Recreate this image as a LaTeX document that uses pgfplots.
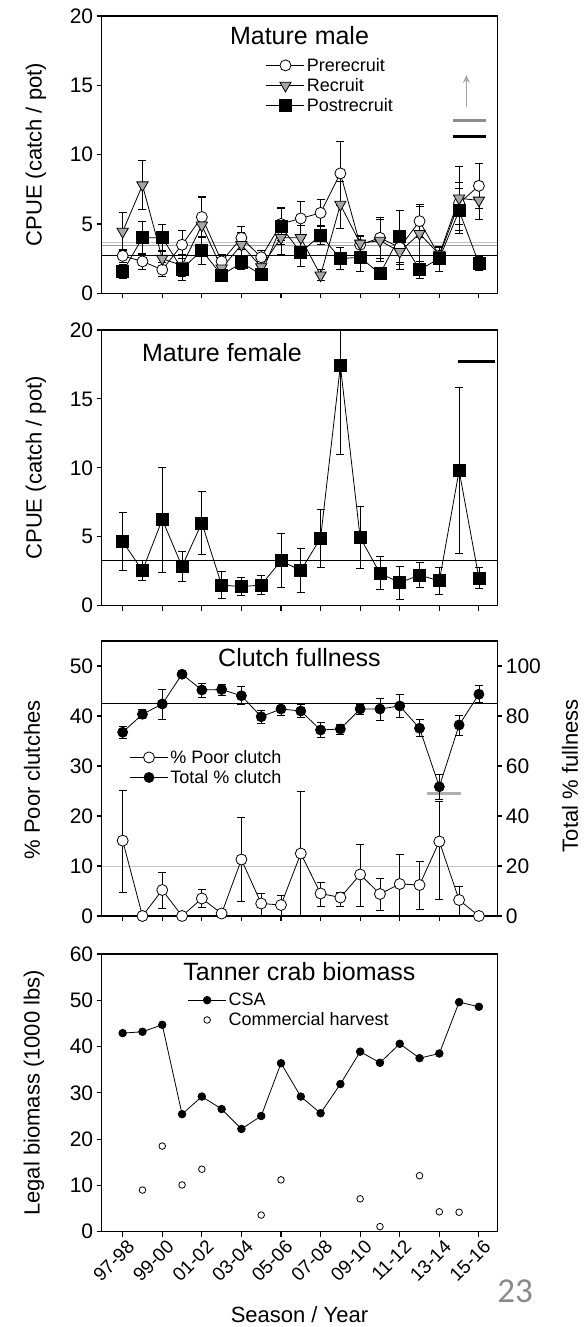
\documentclass[border=0pt]{standalone}
\usepackage{pgfplots}
\pgfplotsset{compat=1.18}
\usepackage{fontspec}
\setmainfont{Liberation Sans}
\newfontfamily\pagefont{Carlito}
\usetikzlibrary{arrows.meta}

\definecolor{recgray}{HTML}{A6A6A6}
\definecolor{refgray}{HTML}{C2C2C2}
\definecolor{midgray}{HTML}{8C8C8C}
\definecolor{pagegray}{HTML}{8A8A8A}

\newcommand\ticksize{\fontsize{21}{21}\selectfont}
\newcommand\xticksize{\fontsize{19}{19}\selectfont}
\newcommand\labsize{\fontsize{22}{22}\selectfont}
\newcommand\titlesize{\fontsize{25}{25}\selectfont}
\newcommand\legsize{\fontsize{18}{19}\selectfont}

\pgfplotsset{
  panel/.style={
    scale only axis, width=395.6pt, xmin=-1.06, xmax=18.93,
    xtick={0,2,...,18}, xticklabels={},
    tick align=outside, xtick pos=left, ytick pos=left,
    major tick length=5pt,
    axis line style={line width=1.1pt},
    tick style={line width=1.1pt, black},
    tick label style={font=\ticksize},
    /pgf/number format/assume math mode=true,
    label style={font=\labsize},
    ylabel style={anchor=center},
    every axis plot/.append style={line width=0.8pt},
    error bars/error bar style={line width=0.8pt, black},
    error bars/error mark options={rotate=90, mark size=4pt, line width=0.8pt, black},
    legend style={draw=none, fill=none, font=\legsize, anchor=north west,
      inner sep=0pt, row sep=1.5pt},
    legend cell align=left,
    legend image code/.code={\draw[mark repeat=2,mark phase=2]
      plot coordinates {(0pt,0pt) (19pt,0pt) (38pt,0pt)};},
  },
  ebars/.style={error bars/.cd, y dir=both, y explicit},
}

\begin{document}
\begin{tikzpicture}
\useasboundingbox (0,0) rectangle (587pt,1327pt);

% ---------------- Mature male ----------------
\begin{axis}[panel, at={(101.7pt,1033.7pt)}, anchor=south west, height=277.3pt,
  ymin=0, ymax=20, ytick={0,5,...,20},
  ylabel={CPUE (catch / pot)},
  ylabel style={at={(axis description cs:-0.166,0.5)}},
  legend style={at={(axis description cs:0.415,0.856)}}]
\addplot[refgray, forget plot] coordinates {(-1.06,3.68) (18.93,3.68)};
\addplot[refgray!80!black, forget plot] coordinates {(-1.06,3.44) (18.93,3.44)};
\addplot[black, forget plot] coordinates {(-1.06,2.76) (18.93,2.76)};
\addplot[midgray, line width=3pt, forget plot] coordinates {(16.67,12.45) (18.38,12.45)};
\addplot[black, line width=3pt, forget plot] coordinates {(16.67,11.3) (18.38,11.3)};
\addplot[recgray, line width=1.8pt, -{Stealth[length=8pt,width=7pt]}, forget plot]
  coordinates {(17.37,13.45) (17.37,15.75)};
\addplot[black, mark=*, mark size=5.5pt, mark options={fill=white, draw=black}, ebars]
  coordinates {
  (0,2.7) +- (0,0.5) (1,2.3) +- (0,0.6) (2,1.7) +- (0,0.5) (3,3.5) +- (0,1.0)
  (4,5.5) +- (0,1.5) (5,2.3) +- (0,0.5) (6,4.0) +- (0,0.8) (7,2.6) +- (0,0.5)
  (8,5.0) +- (0,1.2) (9,5.4) +- (0,1.2) (10,5.8) +- (0,1.0) (11,8.65) +- (0,2.3)
  (12,3.5) +- (0,0.6) (13,4.0) +- (0,1.5) (14,3.3) +- (0,1.2) (15,5.2) +- (0,1.2)
  (16,2.7) +- (0,0.6) (17,6.5) +- (0,1.5) (18,7.75) +- (0,1.6)};
\addlegendentry{Prerecruit}
\addplot[black, mark=triangle*, mark size=6.5pt,
  mark options={rotate=180, fill=recgray, draw=black}, ebars]
  coordinates {
  (0,4.45) +- (0,1.35) (1,7.8) +- (0,1.75) (2,2.5) +- (0,0.6) (3,2.0) +- (0,0.8)
  (4,4.9) +- (0,2.0) (5,1.8) +- (0,0.4) (6,3.5) +- (0,0.9) (7,1.9) +- (0,0.4)
  (8,4.0) +- (0,1.2) (9,4.0) +- (0,0.9) (10,1.3) +- (0,0.4) (11,6.4) +- (0,1.7)
  (12,3.6) +- (0,0.6) (13,3.8) +- (0,1.5) (14,3.0) +- (0,1.3) (15,4.3) +- (0,2.0)
  (16,2.8) +- (0,0.5) (17,6.85) +- (0,2.3) (18,6.7) +- (0,1.4)};
\addlegendentry{Recruit}
\addplot[black, mark=square*, mark size=6pt, mark options={fill=black}, ebars]
  coordinates {
  (0,1.55) +- (0,0.5) (1,4.0) +- (0,1.2) (2,4.0) +- (0,1.0) (3,1.75) +- (0,0.8)
  (4,3.1) +- (0,1.0) (5,1.3) +- (0,0.3) (6,2.2) +- (0,0.5) (7,1.35) +- (0,0.3)
  (8,4.8) +- (0,1.3) (9,2.95) +- (0,1.0) (10,4.2) +- (0,0.7) (11,2.5) +- (0,0.8)
  (12,2.6) +- (0,1.0) (13,1.4) +- (0,0.4) (14,4.1) +- (0,1.9) (15,1.7) +- (0,0.6)
  (16,2.5) +- (0,0.9) (17,5.95) +- (0,1.6) (18,2.15) +- (0,0.5)};
\addlegendentry{Postrecruit}
\node[font=\titlesize] at (rel axis cs:0.5,0.931) {Mature male};
\end{axis}

% ---------------- Mature female ----------------
\begin{axis}[panel, at={(101.7pt,721.3pt)}, anchor=south west, height=275.7pt,
  ymin=0, ymax=20, ytick={0,5,...,20},
  ylabel={CPUE (catch / pot)},
  ylabel style={at={(axis description cs:-0.166,0.5)}}]
\addplot[black] coordinates {(-1.06,3.26) (18.93,3.26)};
\addplot[black, line width=3pt] coordinates {(16.94,17.75) (18.8,17.75)};
\addplot[black, mark=square*, mark size=6pt, mark options={fill=black}, ebars]
  coordinates {
  (0,4.65) +- (0,2.1) (1,2.55) +- (0,0.7) (2,6.25) +- (0,3.8) (3,2.85) +- (0,1.1)
  (4,6.0) +- (0,2.3) (5,1.5) +- (0,1.0) (6,1.38) +- (0,0.65) (7,1.5) +- (0,0.7)
  (8,3.26) +- (0,1.95) (9,2.55) +- (0,1.6) (10,4.9) +- (0,2.1) (11,17.4) +- (0,6.4)
  (12,4.95) +- (0,2.25) (13,2.35) +- (0,1.2) (14,1.67) +- (0,1.2) (15,2.22) +- (0,0.9)
  (16,1.8) +- (0,1.0) (17,9.8) +- (0,6.0) (18,2.0) +- (0,0.75)};
\node[font=\titlesize] at (rel axis cs:0.304,0.919) {Mature female};
\end{axis}

% ---------------- Clutch fullness ----------------
\begin{axis}[panel, at={(101.7pt,411pt)}, anchor=south west, height=275pt,
  ymin=0, ymax=55, ytick={0,10,...,50},
  ylabel={\% Poor clutches},
  ylabel style={at={(axis description cs:-0.176,0.495)}},
  legend style={at={(axis description cs:0.07,0.611)}}]
\addplot[black, forget plot] coordinates {(-1.06,42.5) (18.93,42.5)};
\addplot[refgray, forget plot] coordinates {(-1.06,10) (18.93,10)};
\addplot[refgray!90!black, line width=3pt, forget plot] coordinates {(15.37,24.5) (17.1,24.5)};
\addplot[black, mark=*, mark size=5.5pt, mark options={fill=white, draw=black}, ebars]
  coordinates {
  (0,15.07) += (0,10.1) -= (0,10.4) (1,0) (2,5.2) += (0,3.5) -= (0,3.7) (3,0)
  (4,3.5) += (0,1.8) -= (0,1.7) (5,0.5) (6,11.3) += (0,8.4) -= (0,8.3)
  (7,2.5) += (0,2.0) -= (0,2.3) (8,2.2) += (0,2.0) -= (0,2.2)
  (9,12.5) += (0,12.5) -= (0,12.5) (10,4.5) += (0,2.2) -= (0,2.5)
  (11,3.7) += (0,1.0) -= (0,1.8) (12,8.3) += (0,6.0) -= (0,6.3)
  (13,4.4) += (0,3.1) -= (0,3.2) (14,6.4) += (0,6.0) -= (0,6.4)
  (15,6.2) += (0,4.8) -= (0,4.9) (16,14.9) += (0,8.0) -= (0,11.6)
  (17,3.2) += (0,2.8) -= (0,3.2) (18,0)};
\addlegendentry{\% Poor clutch}
\addlegendimage{black, mark=*, mark size=5pt, mark options={fill=black}}
\addlegendentry{Total \% clutch}
\node[font=\titlesize] at (rel axis cs:0.5,0.939) {Clutch fullness};
\end{axis}
\begin{axis}[panel, at={(101.7pt,411pt)}, anchor=south west, height=275pt,
  axis x line=none, axis y line*=right, ytick pos=right,
  ymin=0, ymax=110, ytick={0,20,...,100},
  ylabel={Total \% fullness},
  ylabel style={at={(axis description cs:1.184,0.51)}}]
\addplot[black, mark=*, mark size=5pt, mark options={fill=black}, ebars]
  coordinates {
  (0,73.5) +- (0,2.5) (1,80.7) +- (0,1.8) (2,84.8) +- (0,6.0) (3,96.7) +- (0,1.0)
  (4,90.4) +- (0,2.8) (5,90.6) +- (0,2.2) (6,88.1) +- (0,3.6) (7,79.7) +- (0,2.6)
  (8,82.8) +- (0,2.4) (9,82.0) +- (0,2.6) (10,74.4) +- (0,3.0) (11,74.8) +- (0,2.0)
  (12,82.8) +- (0,2.0) (13,82.8) +- (0,4.4) (14,84.0) +- (0,4.6) (15,75.1) +- (0,3.4)
  (16,51.7) +- (0,5.0) (17,76.4) +- (0,4.0) (18,88.7) +- (0,3.4)};
\end{axis}

% ---------------- Tanner crab biomass ----------------
\begin{axis}[panel, at={(101.7pt,95.3pt)}, anchor=south west, height=277.7pt,
  ymin=0, ymax=60, ytick={0,10,...,60},
  xticklabels={97-98,99-00,01-02,03-04,05-06,07-08,09-10,11-12,13-14,15-16},
  xticklabel style={rotate=45, anchor=north east, inner sep=1pt,
    font=\xticksize, xshift=2pt, yshift=-3pt},
  ylabel={Legal biomass (1000 lbs)},
  ylabel style={at={(axis description cs:-0.171,0.5)}},
  xlabel={Season / Year},
  xlabel style={at={(axis description cs:0.5,-0.297)}, anchor=center},
  legend style={at={(axis description cs:0.217,0.867)}}]
\addplot[black, mark=*, mark size=3.8pt, mark options={fill=black}]
  coordinates {
  (0,42.9) (1,43.2) (2,44.7) (3,25.4) (4,29.2) (5,26.5) (6,22.2) (7,25.0)
  (8,36.4) (9,29.2) (10,25.6) (11,31.9) (12,38.9) (13,36.5) (14,40.6)
  (15,37.5) (16,38.5) (17,49.6) (18,48.6)};
\addlegendentry{CSA}
\addplot[black, only marks, mark=o, mark size=3.3pt]
  coordinates {
  (1,9.0) (2,18.5) (3,10.1) (4,13.5) (7,3.6) (8,11.2) (12,7.1) (13,1.1)
  (15,12.1) (16,4.3) (17,4.2)};
\addlegendentry{Commercial harvest}
\node[font=\titlesize] at (rel axis cs:0.5,0.936) {Tanner crab biomass};
\end{axis}

\node[font=\pagefont\fontsize{35}{35}\selectfont, text=pagegray] at (515pt,36pt) {23};
\end{tikzpicture}
\end{document}
